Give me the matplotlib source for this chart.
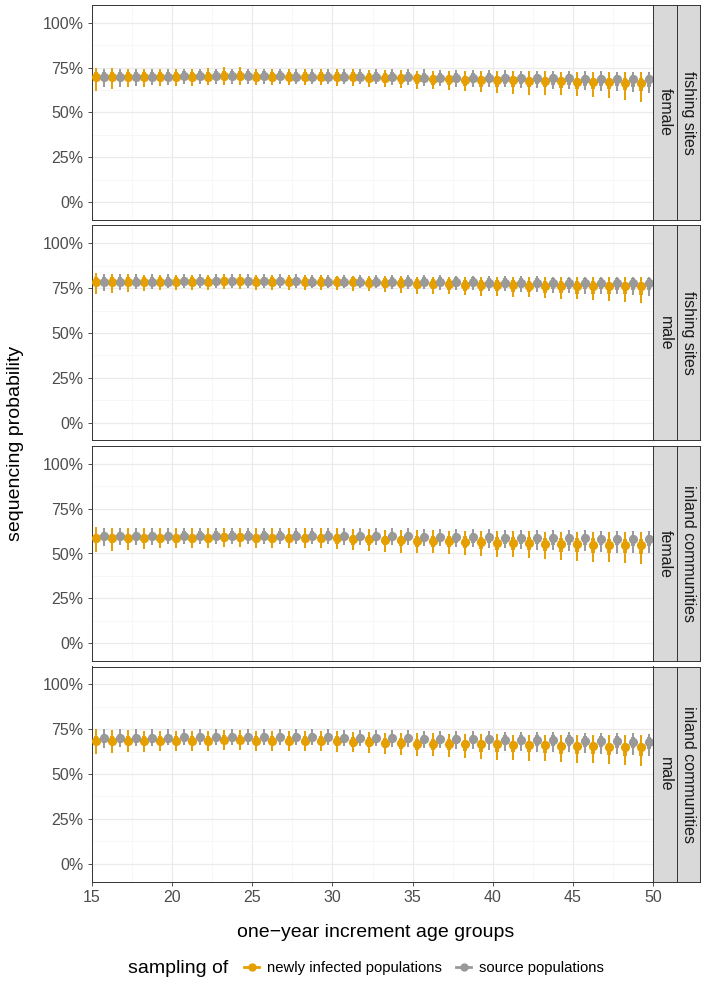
import numpy as np
import matplotlib
matplotlib.use("Agg")
import matplotlib.pyplot as plt
from matplotlib.lines import Line2D

plt.rcParams['font.family'] = ['Liberation Sans', 'DejaVu Sans']

ages = np.arange(15, 50)  # one-year age groups 15..49

# ---- data (percent) ----
# fishing sites, female
fish_fem_new_mid = [70,70,70,70,70,70,70,70,70.5,70.5, 70,70,70,70,70,70,70,69.5,69.5,69, 69,68.5,68.5,68,68,68,68,67.5,67.5,67.5, 67,67,67,66.5,66.5]
fish_fem_new_lo95 = [62,63,64,64.5,65,65,65,65.5,65.5,65.5, 65.5,65.5,65.5,65.5,65.5,65,65,64.5,64,63.5, 63,63,62.5,62,61.5,61,60.5,60,60,59.5, 59,58.5,58,57,56]
fish_fem_new_hi95 = [75,75,74.5,74.5,74.5,74.5,74.5,75,75.5,75.5, 74.5,74.5,74,74,74,74,74,73.5,73.5,73.5, 73,73,73,73,73,73,73,73,73,72.5, 72.5,72.5,72.5,72.5,72.5]
fish_fem_new_lo50 = [67.5,67.5,67.5,67.5,67.5,67.5,67.5,67.5,68,68, 67.5,67.5,67.5,67.5,67.5,67.5,67.5,67,66.5,66, 66,65.5,65.5,65,64.5,64.5,64.5,64,64,63.5, 63,63,63,62.5,62]
fish_fem_new_hi50 = [72.5,72.5,72.5,72.5,72.5,72.5,72.5,72.5,73,73, 72.5,72.5,72.5,72.5,72.5,72.5,72.5,72,72,71.5, 71.5,71,71,70.5,70.5,70.5,70.5,70,70,70, 69.5,69.5,69.5,69,69]
fish_fem_src_mid = [70,70,70,70,70,70.5,70.5,70.5,70.5,70.5, 70.5,70.5,70,70,70,70,70,70,70,70, 69.5,69.5,69.5,69.5,69.5,69,69,69,69,69, 68.5,68.5,68.5,68.5,68.5]
fish_fem_src_lo95 = [64,64.5,65,65.5,65.5,66,66,66,66,66, 66,66,66,66,66,66,66,66,65.5,65.5, 65,65,64.5,64.5,64,64,63.5,63.5,63,63, 62.5,62,62,61.5,61]
fish_fem_src_hi95 = [74.5,74.5,74.5,74.5,74.5,74.5,74.5,74.5,74.5,74.5, 74.5,74.5,74.5,74.5,74.5,74.5,74,74,74,74, 74,73.5,73.5,73.5,73.5,73.5,73,73,73,73, 73,73,72.5,72.5,72.5]
fish_fem_src_lo50 = [67.5,67.5,67.5,67.5,67.5,68,68,68,68,68, 68,68,67.5,67.5,67.5,67.5,67.5,67.5,67.5,67.5, 67,67,67,66.5,66.5,66,66,66,65.5,65.5, 65,65,65,64.5,64.5]
fish_fem_src_hi50 = [72.5,72.5,72.5,72.5,72.5,73,73,73,73,73, 73,73,72.5,72.5,72.5,72.5,72.5,72.5,72.5,72.5, 72,72,72,72,72,71.5,71.5,71.5,71.5,71.5, 71,71,71,71,71]

# fishing sites, male
fish_mal_new_mid = [78.5,78.5,78.5,78.5,78.5,78.5,78.5,78.5,79,79, 78.5,78.5,78.5,78.5,78.5,78.5,78.5,78,78,78, 77.5,77.5,77.5,77,77,77,77,76.5,76.5,76.5, 76.5,76.5,76,76,76]
fish_mal_new_lo95 = [72,72.5,73,73.5,74,74,74,74,74.5,74.5, 74,74,74,74,74,74,73.5,73.5,73,72.5, 72,72,71.5,71,70.5,70.5,70,70,69.5,69, 69,68.5,68,67.5,67]
fish_mal_new_hi95 = [83.5,83,83,82.5,82.5,82.5,82.5,82.5,83,83, 82.5,82.5,82.5,82.5,82.5,82,82,82,82,82, 81.5,81.5,81.5,81.5,81.5,81.5,81.5,81.5,81.5,81.5, 81.5,81.5,81.5,81.5,81.5]
fish_mal_new_lo50 = [76,76,76,76,76,76,76,76,76.5,76.5, 76,76,76,76,76,76,76,75.5,75,75, 74.5,74.5,74,73.5,73.5,73.5,73,73,72.5,72.5, 72,72,71.5,71.5,71]
fish_mal_new_hi50 = [81,81,81,81,81,81,81,81,81.5,81.5, 81,81,81,81,81,81,81,80.5,80.5,80.5, 80,80,80,79.5,79.5,79.5,79.5,79,79,79, 79,79,78.5,78.5,78.5]
fish_mal_src_mid = [78.5,78.5,78.5,78.5,78.5,79,79,79,79,79, 79,79,79,78.5,78.5,78.5,78.5,78.5,78.5,78.5, 78.5,78.5,78.5,78.5,78,78,78,78,78,78, 78,78,78,78,78]
fish_mal_src_lo95 = [73.5,74,74.5,74.5,75,75,75,75,75,75, 75,75,75,75,75,75,75,75,74.5,74.5, 74.5,74,74,74,73.5,73.5,73,73,72.5,72.5, 72,72,71.5,71,70.5]
fish_mal_src_hi95 = [83,83,83,83,83,83,83,83,83,83, 83,83,83,82.5,82.5,82.5,82.5,82.5,82.5,82.5, 82.5,82.5,82,82,82,82,82,82,81.5,81.5, 81.5,81.5,81.5,81.5,81.5]
fish_mal_src_lo50 = [76,76,76,76,76,76.5,76.5,76.5,76.5,76.5, 76.5,76.5,76.5,76,76,76,76,76,76,76, 76,76,75.5,75.5,75,75,75,75,74.5,74.5, 74.5,74.5,74,74,74]
fish_mal_src_hi50 = [81,81,81,81,81,81.5,81.5,81.5,81.5,81.5, 81.5,81.5,81.5,81,81,81,81,81,81,81, 81,81,81,81,80.5,80.5,80.5,80.5,80.5,80.5, 80.5,80.5,80.5,80.5,80.5]

# inland communities, female
inl_fem_new_mid = [58.5,58.5,58.5,58.5,58.5,58.5,58.5,58.5,59,59, 58.5,58.5,58.5,58.5,58.5,58.5,58,58,57.5,57.5, 57,57,57,56.5,56.5,56,56,56,55.5,55.5, 55.5,55,55,54.5,54.5]
inl_fem_new_lo95 = [51,51.5,52,52.5,53,53,53,53,53.5,53.5, 53,53,53,53,53,52.5,52,51.5,51,50.5, 50,50,49.5,49,48.5,48,48,47.5,47,46.5, 46,45.5,45,44.5,44]
inl_fem_new_hi95 = [65,64.5,64.5,64,64,64,64,64,64.5,64.5, 64,64,64,64,64,64,63.5,63.5,63,63, 63,63,62.5,62.5,62.5,62.5,62.5,62.5,62,62, 62,62,62,62,62]
inl_fem_new_lo50 = [56,56,56,56,56,56,56,56,56.5,56.5, 56,56,56,56,56,55.5,55,55,54.5,54, 53.5,53.5,53.5,53,52.5,52,52,52,51.5,51, 51,50.5,50.5,50,49.5]
inl_fem_new_hi50 = [61,61,61,61,61,61,61,61,61.5,61.5, 61,61,61,61,61,61,60.5,60.5,60,60, 60,59.5,59.5,59.5,59,59,59,59,58.5,58.5, 58.5,58.5,58,58,58]
inl_fem_src_mid = [59.5,59.5,59.5,59.5,59.5,60,60,60,60,60, 60,60,60,60,60,59.5,59.5,59.5,59.5,59.5, 59,59,59,59,59,58.5,58.5,58.5,58.5,58.5, 58.5,58,58,58,58]
inl_fem_src_lo95 = [54,54.5,55,55,55.5,55.5,55.5,55.5,55.5,55.5, 55.5,55.5,55.5,55.5,55.5,55,55,55,54.5,54.5, 54,54,53.5,53.5,53,53,52.5,52,52,51.5, 51.5,51,50.5,50,50]
inl_fem_src_hi95 = [64.5,64.5,64.5,64.5,64.5,64.5,64.5,64.5,64.5,64.5, 64.5,64.5,64.5,64.5,64.5,64,64,64,64,64, 63.5,63.5,63.5,63.5,63.5,63,63,63,63,63, 63,62.5,62.5,62.5,62.5]
inl_fem_src_lo50 = [57,57,57,57,57,57.5,57.5,57.5,57.5,57.5, 57.5,57.5,57.5,57.5,57.5,57,57,57,57,57, 56.5,56.5,56,56,56,55.5,55.5,55.5,55,55, 55,54.5,54.5,54,54]
inl_fem_src_hi50 = [62,62,62,62,62,62.5,62.5,62.5,62.5,62.5, 62.5,62.5,62.5,62.5,62.5,62,62,62,62,62, 61.5,61.5,61.5,61.5,61.5,61,61,61,61,61, 61,60.5,60.5,60.5,60.5]

# inland communities, male
inl_mal_new_mid = [68.5,68.5,68.5,68.5,68.5,68.5,68.5,68.5,69,69, 68.5,68.5,68.5,68.5,68.5,68.5,68,68,67.5,67.5, 67,67,67,66.5,66.5,66.5,66,66,66,65.5, 65.5,65.5,65,65,65]
inl_mal_new_lo95 = [61,61.5,62,62.5,63,63,63,63,63.5,63.5, 63,63,63,63,63,62.5,62,61.5,61,60.5, 60,60,59.5,59,58.5,58,58,57.5,57,56.5, 56,56,55.5,55,54.5]
inl_mal_new_hi95 = [75,74.5,74.5,74,74,74,74,74,74.5,74.5, 74,74,74,74,74,74,73.5,73.5,73,73, 73,73,72.5,72.5,72.5,72.5,72,72,72,72, 71.5,71.5,71.5,71.5,71.5]
inl_mal_new_lo50 = [66,66,66,66,66,66,66,66,66.5,66.5, 66,66,66,66,66,65.5,65,65,64.5,64, 63.5,63.5,63.5,63,62.5,62.5,62,62,61.5,61, 61,61,60.5,60,60]
inl_mal_new_hi50 = [71,71,71,71,71,71,71,71,71.5,71.5, 71,71,71,71,71,71,70.5,70.5,70,70, 69.5,69.5,69.5,69,69,69,68.5,68.5,68.5,68, 68,68,67.5,67.5,67.5]
inl_mal_src_mid = [70,70,70,70,70,70.5,70.5,70.5,70.5,70.5, 70.5,70.5,70.5,70.5,70.5,70,70,70,70,70, 69.5,69.5,69.5,69.5,69.5,69,69,69,69,69, 68.5,68.5,68.5,68,68]
inl_mal_src_lo95 = [64.5,65,65.5,65.5,66,66,66,66,66,66, 66,66,66,66,66,65.5,65.5,65.5,65,65, 64.5,64.5,64,64,63.5,63,63,62.5,62,62, 61.5,61,61,60.5,60]
inl_mal_src_hi95 = [75,75,75,75,75,75,75,75,75,75, 75,75,75,75,75,74.5,74.5,74.5,74.5,74.5, 74,74,74,74,74,73.5,73.5,73.5,73.5,73.5, 73,73,73,73,72.5]
inl_mal_src_lo50 = [67.5,67.5,67.5,67.5,67.5,68,68,68,68,68, 68,68,68,68,68,67.5,67.5,67.5,67.5,67.5, 67,67,66.5,66.5,66.5,66,66,65.5,65.5,65.5, 65,65,64.5,64.5,64]
inl_mal_src_hi50 = [72.5,72.5,72.5,72.5,72.5,73,73,73,73,73, 73,73,73,73,73,72.5,72.5,72.5,72.5,72.5, 72,72,72,72,72,71.5,71.5,71.5,71.5,71.5, 71,71,71,70.5,70.5]

panel_labels = [("female", "fishing sites"), ("male", "fishing sites"),
                ("female", "inland communities"), ("male", "inland communities")]
panel_data = [
    (fish_fem_new_mid, fish_fem_new_lo95, fish_fem_new_hi95, fish_fem_new_lo50, fish_fem_new_hi50,
     fish_fem_src_mid, fish_fem_src_lo95, fish_fem_src_hi95, fish_fem_src_lo50, fish_fem_src_hi50),
    (fish_mal_new_mid, fish_mal_new_lo95, fish_mal_new_hi95, fish_mal_new_lo50, fish_mal_new_hi50,
     fish_mal_src_mid, fish_mal_src_lo95, fish_mal_src_hi95, fish_mal_src_lo50, fish_mal_src_hi50),
    (inl_fem_new_mid, inl_fem_new_lo95, inl_fem_new_hi95, inl_fem_new_lo50, inl_fem_new_hi50,
     inl_fem_src_mid, inl_fem_src_lo95, inl_fem_src_hi95, inl_fem_src_lo50, inl_fem_src_hi50),
    (inl_mal_new_mid, inl_mal_new_lo95, inl_mal_new_hi95, inl_mal_new_lo50, inl_mal_new_hi50,
     inl_mal_src_mid, inl_mal_src_lo95, inl_mal_src_hi95, inl_mal_src_lo50, inl_mal_src_hi50),
]

col_new = "#E69F00"
col_src = "#999999"
dodge = 0.24

W, H = 706, 988
fig = plt.figure(figsize=(W / 100, H / 100), dpi=100)

px_left, px_right = 92, 653
panel_tops = [5, 225.5, 446, 666.5]
panel_h = 215

def fx(px):
    return px / W

def fy(py):
    return 1 - py / H

def draw_series(ax, x, mid, lo95, hi95, lo50, hi50, col):
    mid = np.array(mid) / 100
    ax.vlines(x, np.array(lo95) / 100, np.array(hi95) / 100, color=col, lw=1.4, zorder=3)
    ax.vlines(x, np.array(lo50) / 100, np.array(hi50) / 100, color=col, lw=2.8, zorder=3)
    ax.plot(x, mid, 'o', color=col, ms=6.6, mec='none', zorder=4)

for i, (sex, loc) in enumerate(panel_labels):
    top = panel_tops[i]
    ax = fig.add_axes([fx(px_left), fy(top + panel_h), fx(px_right - px_left), panel_h / H])
    d = panel_data[i]
    draw_series(ax, ages + 0.5 - dodge, *d[:5], col_new)
    draw_series(ax, ages + 0.5 + dodge, *d[5:], col_src)

    ax.set_xlim(15, 50)
    ax.set_ylim(-0.1, 1.1)
    ax.set_xticks([15, 20, 25, 30, 35, 40, 45, 50])
    ax.set_xticks(np.arange(17.5, 50, 5), minor=True)
    ax.set_yticks([0, 0.25, 0.5, 0.75, 1.0])
    ax.set_yticks([0.125, 0.375, 0.625, 0.875], minor=True)
    ax.set_yticklabels(["0%", "25%", "50%", "75%", "100%"])
    ax.grid(True, which='major', color='#EBEBEB', lw=0.9, zorder=0)
    ax.grid(True, which='minor', color='#F4F4F4', lw=0.5, zorder=0)
    ax.set_axisbelow(True)
    ax.tick_params(axis='both', which='major', length=3, width=0.6, color='#333333',
                   labelcolor='#4D4D4D', labelsize=11.5, pad=3)
    ax.tick_params(axis='both', which='minor', length=0)
    for s in ax.spines.values():
        s.set_color('#333333')
        s.set_linewidth(0.7)
    if i < 3:
        ax.set_xticklabels([])
        ax.tick_params(axis='x', length=0)

    # strips
    for (x0, x1, txt) in [(653, 677, sex), (677, 700, loc)]:
        sax = fig.add_axes([fx(x0), fy(top + panel_h), fx(x1 - x0), panel_h / H])
        sax.set_facecolor('#D9D9D9')
        sax.set_xticks([])
        sax.set_yticks([])
        for s in sax.spines.values():
            s.set_color('#333333')
            s.set_linewidth(0.7)
        sax.text(0.5, 0.5, txt, rotation=-90, ha='center', va='center',
                 fontsize=11.5, color='#1A1A1A', transform=sax.transAxes)

fig.text(fx(376), fy(932), "one\u2212year increment age groups", ha='center', va='center', fontsize=14)
fig.text(fx(16), fy(443), "sequencing probability", ha='center', va='center', rotation=90, fontsize=14)

# legend
fig.text(fx(128), fy(968), "sampling of", ha='left', va='center', fontsize=14)
handles = [Line2D([0], [0], color=col_new, marker='o', ms=6, lw=2, mec='none'),
           Line2D([0], [0], color=col_src, marker='o', ms=6, lw=2, mec='none')]
fig.legend(handles, ["newly infected populations", "source populations"], ncol=2,
           loc='center left', bbox_to_anchor=(fx(237), fy(968)), frameon=False,
           fontsize=10.7, handlelength=1.0, handletextpad=0.5, columnspacing=1.0,
           borderpad=0)

fig.savefig("out.png", dpi=100)
